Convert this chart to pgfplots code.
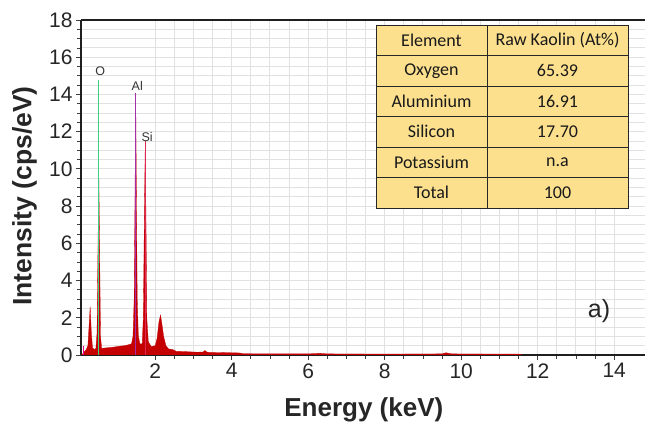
\documentclass[border=0pt]{standalone}
\usepackage{pgfplots}
\pgfplotsset{compat=1.18}
\usepackage{fontspec}
\setmainfont{Liberation Sans}
\newfontfamily\tabfont{Carlito}
\definecolor{specred}{RGB}{196,0,0}
\definecolor{olin}{RGB}{60,210,130}
\definecolor{allin}{RGB}{165,45,170}
\definecolor{silin}{RGB}{225,40,85}
\definecolor{tabfill}{RGB}{252,224,142}
\definecolor{gridc}{RGB}{225,225,225}
\begin{document}
\begin{tikzpicture}[x=1pt,y=1pt]
\path[use as bounding box] (-81,-72) rectangle (564,355);
\begin{axis}[
  at={(0,0)}, anchor=south west,
  scale only axis, width=565.7pt, height=335pt,
  xmin=0.06, xmax=14.85, ymin=0, ymax=18,
  separate axis lines,
  axis x line=box, axis y line=left,
  axis line style={-, line width=2.2pt, color=black!88},
  xtick pos=bottom,
  xtick={2,4,...,14}, ytick={0,2,...,18},
  minor x tick num=3, minor y tick num=3,
  tick align=outside,
  major tick length=5pt, minor tick length=4pt,
  tick style={black!75, line width=0.8pt},
  grid=both,
  major grid style={gridc, line width=0.9pt},
  minor grid style={gridc, line width=0.9pt},
  ticklabel style={font=\fontsize{21}{24}\selectfont, text=black!85},
  /pgf/number format/assume math mode=true,
  xlabel={Energy (keV)},
  xlabel style={font=\fontsize{26}{30}\selectfont\bfseries, text=black!85, at={(axis description cs:0.5,-0.184)}, anchor=base},
  ylabel={Intensity (cps/eV)},
  ylabel style={font=\fontsize{26.5}{30}\selectfont\bfseries, text=black!85, at={(axis description cs:-0.1,0.475)}, anchor=center},
  clip=true,
]
\addplot[fill=specred, draw=specred, line width=0.3pt] coordinates {
(0.06,0) (0.10,0.05) (0.14,0.15) (0.2,0.3) (0.24,0.5) (0.27,1.5) (0.30,2.6) (0.33,1.2) (0.36,0.4)
(0.40,0.3) (0.45,0.35) (0.48,1.2) (0.50,5) (0.525,9.8) (0.55,5) (0.57,1) (0.60,0.35)
(0.7,0.38) (0.8,0.40) (0.9,0.42) (1.0,0.45) (1.1,0.48) (1.2,0.50) (1.3,0.55) (1.38,0.6)
(1.42,1.0) (1.45,3) (1.47,8) (1.49,14.0) (1.51,8) (1.53,3) (1.56,1) (1.60,0.6) (1.66,0.6)
(1.69,2) (1.72,8) (1.74,11.4) (1.76,7) (1.78,2) (1.82,0.7) (1.9,0.45) (2.0,0.5)
(2.05,0.9) (2.10,1.8) (2.14,2.15) (2.18,1.6) (2.22,1.0) (2.28,0.5) (2.35,0.32) (2.45,0.3)
(2.55,0.2) (2.8,0.18) (3.1,0.15) (3.25,0.16) (3.3,0.24) (3.35,0.16) (3.4,0.14) (3.7,0.13) (4.0,0.12)
(4.2,0.11) (4.3,0.07) (5,0.06) (6,0.06) (6.3,0.09) (6.5,0.06) (8,0.05) (9.5,0.06)
(9.6,0.12) (9.75,0.06) (11,0.05) (11.5,0.05) (11.6,0)
} \closedcycle;
\addplot[olin, line width=1pt] coordinates {(0.525,0) (0.525,14.8)};
\addplot[allin, line width=1pt] coordinates {(1.49,0) (1.49,14.1)};
\addplot[silin, line width=1pt] coordinates {(1.74,0) (1.74,11.5)};
\addplot[magenta, line width=1pt] coordinates {(0.13,0) (0.13,0.5)};
\node[font=\fontsize{12.5}{14}\selectfont, text=black!80] at (axis cs:0.565,15.26) {O};
\node[font=\fontsize{12.5}{14}\selectfont, text=black!80] at (axis cs:1.53,14.45) {Al};
\node[font=\fontsize{12.5}{14}\selectfont, text=black!80] at (axis cs:1.79,11.7) {Si};
\end{axis}
% table
\fill[tabfill] (295,147) rectangle (547,330);
\draw[black!85, line width=0.9pt] (295,147) rectangle (547,330);
\draw[black!85, line width=0.9pt] (406,147) -- (406,330);
\foreach \yy in {299.5,269,238.5,208,177.5} {\draw[black!85, line width=0.9pt] (295,\yy) -- (547,\yy);}
\begin{scope}[every node/.style={font=\tabfont\fontsize{18}{21}\selectfont, text=black!90}]
\node at (350.5,314.75) {Element};
\node at (476.5,314.75) {Raw Kaolin (At\%)};
\node at (350.5,284.25) {Oxygen};
\node at (476.5,284.25) {65.39};
\node at (350.5,253.75) {Aluminium};
\node at (476.5,253.75) {16.91};
\node at (350.5,223.25) {Silicon};
\node at (476.5,223.25) {17.70};
\node at (350.5,192.75) {Potassium};
\node at (476.5,192.75) {n.a};
\node at (350.5,162.25) {Total};
\node at (476.5,162.25) {100};
\end{scope}
\node[font=\fontsize{25}{28}\selectfont, text=black!85] at (518,44) {a)};
\end{tikzpicture}
\end{document}
